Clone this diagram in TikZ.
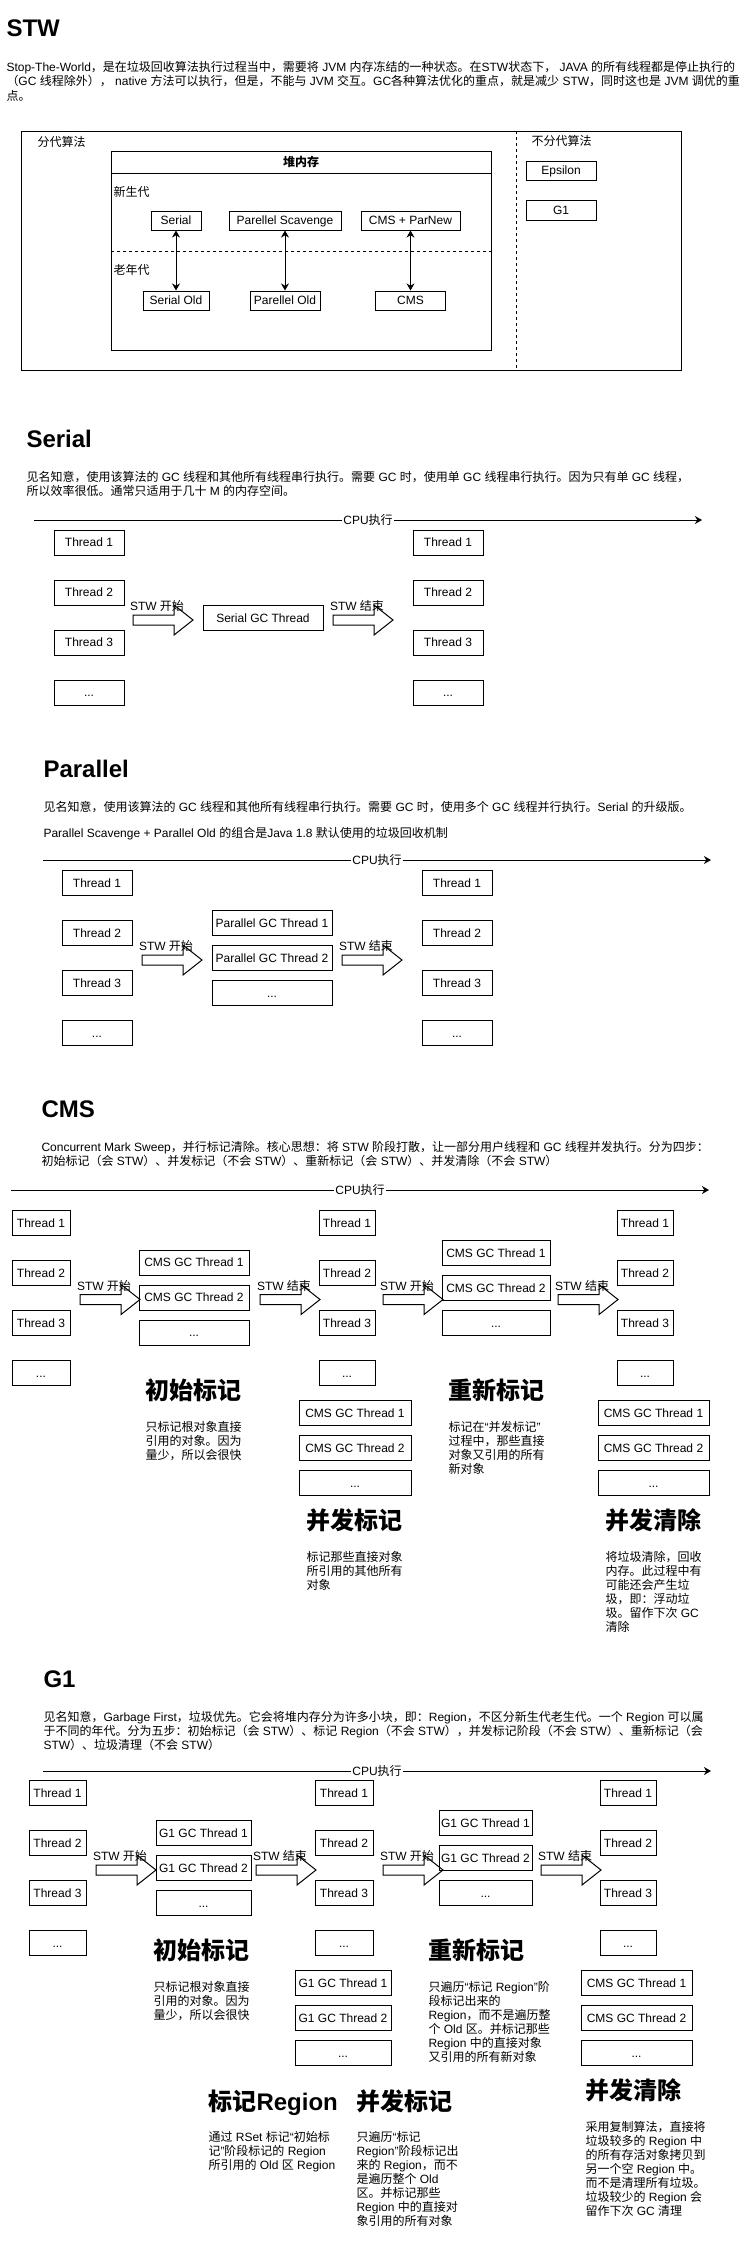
\documentclass[tikz,border=0pt]{standalone}
\usepackage{fontspec}
\setmainfont{Liberation Sans}
\newfontfamily\latf{Liberation Sans}
\newfontfamily\cjkf{Noto Sans CJK SC}
\usetikzlibrary{arrows.meta}
% automatic switch between Latin and CJK fonts
\chardef\mycjkclass=7
\newcount\cjkcnt
\newcommand\setcjkrange[2]{\cjkcnt=#1\relax\loop\XeTeXcharclass\cjkcnt=\mycjkclass\relax\ifnum\cjkcnt<#2\relax\advance\cjkcnt by 1\relax\repeat}
\setcjkrange{"3000}{"303F}
\setcjkrange{"4E00}{"9FFF}
\setcjkrange{"FF00}{"FFEF}
\XeTeXcharclass"201C=0 \XeTeXcharclass"201D=0 \XeTeXcharclass"2018=0 \XeTeXcharclass"2019=0
\XeTeXinterchartoks 0 7={\cjkf}
\XeTeXinterchartoks 1 7={\cjkf}
\XeTeXinterchartoks 2 7={\cjkf}
\XeTeXinterchartoks 3 7={\cjkf}
\XeTeXinterchartoks 4095 7={\cjkf}
\XeTeXinterchartoks 7 0={\latf}
\XeTeXinterchartoks 7 1={\latf}
\XeTeXinterchartoks 7 2={\latf}
\XeTeXinterchartoks 7 3={\latf}
\XeTeXinterchartoks 7 4095={\latf}
\XeTeXinterchartokenstate=1

\newcommand\tcol[4]{%
  \node[bx,sz={#4}{25}] (#1-1) at (#2,#3) {Thread 1};
  \node[bx,sz={#4}{25}] (#1-2) at (#2,#3+50) {Thread 2};
  \node[bx,sz={#4}{25}] (#1-3) at (#2,#3+100) {Thread 3};
  \node[bx,sz={#4}{25}] (#1-4) at (#2,#3+150) {...};}
\newcommand\gcg[6]{%
  \node[bx,sz={#4}{25}] (#1-1) at (#2,#3) {#5};
  \node[bx,sz={#4}{25}] (#1-2) at (#2,#3+35) {#6};
  \node[bx,sz={#4}{25}] (#1-3) at (#2,#3+70) {...};}
\newcommand\stw[4]{%
  \pic (#1) at (#2,#3) {stwarrow};
  \node[txt] (#1-l) at (#2-3.5,#3-9.5) {#4};}
\newcommand\plines[4]{\foreach \ln [count=\i] in {#4}{\node[txt] (#1-\i) at (#2,{#3+(\i-1)*14}) {\ln};}}
\newcommand\cpuline[4]{%
  \coordinate (#1-a) at (#2,#4);
  \coordinate (#1-b) at (#3,#4);
  \draw[cpu] (#1-a) -- (#1-b) node[cpul,midway] (#1-l) {CPU执行};}

\begin{document}
\begin{tikzpicture}[x=0.75pt,y=-0.75pt,line width=0.75pt,
  txt/.style={inner sep=0pt,anchor=base west,font=\fontsize{9}{10.5}\selectfont},
  hd/.style={inner sep=0pt,anchor=base west,font=\fontsize{18}{21}\selectfont\bfseries},
  bx/.style={draw,inner sep=0pt,font=\fontsize{9}{10.5}\selectfont,text height=8.1pt,text depth=1.9pt},
  sz/.style 2 args={minimum width=#1*0.75pt,minimum height=#2*0.75pt},
  dsh/.style={dash pattern=on 2.25pt off 2.25pt},
  cpu/.style={-{Stealth[length=5.3pt,width=6pt]}},
  dbl/.style={{Stealth[length=5.3pt,width=6pt]}-{Stealth[length=5.3pt,width=6pt]}},
  cpul/.style={fill=white,inner sep=1pt,font=\fontsize{9}{10.5}\selectfont},
  stwarrow/.pic={\draw[line join=miter] (0,-5) -- (41,-5) -- (41,-15) -- (60,0) -- (41,15) -- (41,5) -- (0,5) -- cycle;}]
\fill[white] (0,0) rectangle (752,2241);
\useasboundingbox (0,0) rectangle (752,2241);

% ================= STW =================
\node[hd] (t-stw) at (6,37) {STW};
\plines{p-stw}{6}{72}{{Stop-The-World，是在垃圾回收算法执行过程当中，需要将 JVM 内存冻结的一种状态。在STW状态下， JAVA 的所有线程都是停止执行的},{（GC 线程除外）， native 方法可以执行，但是，不能与 JVM 交互。GC各种算法优化的重点，就是减少 STW，同时这也是 JVM 调优的重},{点。}}
\draw (21,131) rectangle (681,370);
\draw[dsh] (516,131) -- (516,370);
\node[txt] (l-fd) at (37,146.5) {分代算法};
\node[txt] (l-nfd) at (531,145.5) {不分代算法};
\draw (111,151) rectangle (491,350);
\draw (111,173) -- (491,173);
\node[inner sep=0pt,font=\fontsize{9}{10.5}\selectfont\bfseries] (heap) at (301,162) {堆内存};
\node[txt] (l-xsd) at (113,196.5) {新生代};
\draw[dsh] (111,251) -- (491,251);
\node[txt] (l-lnd) at (113,274.5) {老年代};
\node[bx,sz={50}{19}] (serial) at (176,220.5) {Serial};
\node[bx,sz={112}{19}] (ps) at (285,220.5) {Parellel Scavenge};
\node[bx,sz={99}{19}] (cmspn) at (410.5,220.5) {CMS + ParNew};
\node[bx,sz={66}{19}] (serialold) at (176,300.5) {Serial Old};
\node[bx,sz={70}{19}] (po) at (285,300.5) {Parellel Old};
\node[bx,sz={70}{19}] (cmsold) at (410.5,300.5) {CMS};
\draw[dbl] (serial) -- (serialold);
\draw[dbl] (ps) -- (po);
\draw[dbl] (cmspn) -- (cmsold);
\node[bx,sz={70}{19}] (eps) at (561,170.5) {Epsilon};
\node[bx,sz={70}{20}] (g1box) at (561,210) {G1};

% ================= Serial =================
\node[hd] (t-serial) at (26,447) {Serial};
\plines{p-ser}{26}{481.5}{{见名知意，使用该算法的 GC 线程和其他所有线程串行执行。需要 GC 时，使用单 GC 线程串行执行。因为只有单 GC 线程，},{所以效率很低。通常只适用于几十 M 的内存空间。}}
\cpuline{s-cpu}{34}{702}{520}
\tcol{s-a}{89}{542.5}{70}
\tcol{s-b}{448}{542.5}{70}
\node[bx,sz={120}{25}] (s-gc) at (263,618) {Serial GC Thread};
\stw{s-w1}{133}{620}{STW 开始}
\stw{s-w2}{333}{620}{STW 结束}

% ================= Parallel =================
\node[hd] (t-par) at (43,777) {Parallel};
\node[txt] (p-par-1) at (43,811.5) {见名知意，使用该算法的 GC 线程和其他所有线程串行执行。需要 GC 时，使用多个 GC 线程并行执行。Serial 的升级版。};
\node[txt] (p-par-2) at (43,837.5) {Parallel Scavenge + Parallel Old 的组合是Java 1.8 默认使用的垃圾回收机制};
\cpuline{p-cpu}{43}{711}{860}
\tcol{p-a}{97}{883}{70}
\tcol{p-b}{457}{883}{70}
\gcg{p-g}{272}{923}{120}{Parallel GC Thread 1}{Parallel GC Thread 2}
\stw{p-w1}{142}{960}{STW 开始}
\stw{p-w2}{342}{960}{STW 结束}

% ================= CMS =================
\node[hd] (t-cms) at (41,1117) {CMS};
\plines{p-cms}{41}{1151.5}{{Concurrent Mark Sweep，并行标记清除。核心思想：将 STW 阶段打散，让一部分用户线程和 GC 线程并发执行。分为四步：},{初始标记（会 STW）、并发标记（不会 STW）、重新标记（会 STW）、并发清除（不会 STW）}}
\cpuline{c-cpu}{11}{709}{1190}
\tcol{c-a}{41}{1223}{58}
\tcol{c-b}{347}{1223}{56}
\tcol{c-c}{645}{1223}{56}
\gcg{c-g1}{194}{1262.5}{110}{CMS GC Thread 1}{CMS GC Thread 2}
\gcg{c-g2}{496}{1253}{108}{CMS GC Thread 1}{CMS GC Thread 2}
\stw{c-w1}{80}{1299.5}{STW 开始}
\stw{c-w2}{260}{1299.5}{STW 结束}
\stw{c-w3}{383}{1299.5}{STW 开始}
\stw{c-w4}{558}{1299.5}{STW 结束}
\gcg{c-g3}{355}{1413}{112}{CMS GC Thread 1}{CMS GC Thread 2}
\gcg{c-g4}{653.5}{1413}{111}{CMS GC Thread 1}{CMS GC Thread 2}
\node[hd] (c-h1) at (145,1399) {初始标记};
\plines{c-d1}{145}{1431.5}{{只标记根对象直接},{引用的对象。因为},{量少，所以会很快}}
\node[hd] (c-h2) at (306,1529) {并发标记};
\plines{c-d2}{306}{1561.5}{{标记那些直接对象},{所引用的其他所有},{对象}}
\node[hd] (c-h3) at (448,1399) {重新标记};
\plines{c-d3}{448}{1431.5}{{标记在“并发标记”},{过程中，那些直接},{对象又引用的所有},{新对象}}
\node[hd] (c-h4) at (605,1529) {并发清除};
\plines{c-d4}{605}{1561.5}{{将垃圾清除，回收},{内存。此过程中有},{可能还会产生垃},{圾，即：浮动垃},{圾。留作下次 GC},{清除}}

% ================= G1 =================
\node[hd] (t-g1) at (43,1687) {G1};
\plines{p-g1}{43}{1721.5}{{见名知意，Garbage First，垃圾优先。它会将堆内存分为许多小块，即：Region，不区分新生代老生代。一个 Region 可以属},{于不同的年代。分为五步：初始标记（会 STW）、标记 Region（不会 STW），并发标记阶段（不会 STW）、重新标记（会},{STW）、垃圾清理（不会 STW）}}
\cpuline{g-cpu}{43}{711}{1771}
\tcol{g-a}{57.5}{1793}{57}
\tcol{g-b}{344}{1793}{58}
\tcol{g-c}{628}{1793}{56}
\gcg{g-g1}{203.5}{1833}{95}{G1 GC Thread 1}{G1 GC Thread 2}
\gcg{g-g2}{485.5}{1823}{93}{G1 GC Thread 1}{G1 GC Thread 2}
\stw{g-w1}{96}{1870}{STW 开始}
\stw{g-w2}{256}{1870}{STW 结束}
\stw{g-w3}{383}{1870}{STW 开始}
\stw{g-w4}{541}{1870}{STW 结束}
\gcg{g-g3}{343}{1983}{96}{G1 GC Thread 1}{G1 GC Thread 2}
\gcg{g-g4}{636.5}{1983}{111}{CMS GC Thread 1}{CMS GC Thread 2}
\node[hd] (g-h1) at (153,1959) {初始标记};
\plines{g-d1}{153}{1991.5}{{只标记根对象直接},{引用的对象。因为},{量少，所以会很快}}
\node[hd] (g-h2) at (428,1959) {重新标记};
\plines{g-d2}{428}{1991.5}{{只遍历“标记 Region”阶},{段标记出来的},{Region，而不是遍历整},{个 Old 区。并标记那些},{Region 中的直接对象},{又引用的所有新对象}}
\node[hd] (g-h3) at (208,2110) {标记Region};
\plines{g-d3}{208}{2141.5}{{通过 RSet 标记“初始标},{记”阶段标记的 Region},{所引用的 Old 区 Region}}
\node[hd] (g-h4) at (356,2110) {并发标记};
\plines{g-d4}{356}{2141.5}{{只遍历“标记},{Region”阶段标记出},{来的 Region，而不},{是遍历整个 Old},{区。并标记那些},{Region 中的直接对},{象引用的所有对象}}
\node[hd] (g-h5) at (585,2099) {并发清除};
\plines{g-d5}{585}{2131.5}{{采用复制算法，直接将},{垃圾较多的 Region 中},{的所有存活对象拷贝到},{另一个空 Region 中。},{而不是清理所有垃圾。},{垃圾较少的 Region 会},{留作下次 GC 清理}}
\end{tikzpicture}
\end{document}
